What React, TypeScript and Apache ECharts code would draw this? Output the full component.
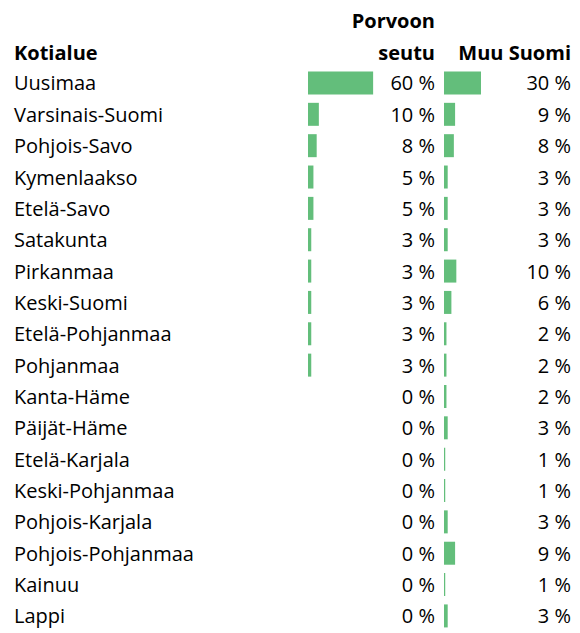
import React, { useEffect, useRef } from "react";
import * as echarts from "echarts";

const regions = [
  "Uusimaa",
  "Varsinais-Suomi",
  "Pohjois-Savo",
  "Kymenlaakso",
  "Etelä-Savo",
  "Satakunta",
  "Pirkanmaa",
  "Keski-Suomi",
  "Etelä-Pohjanmaa",
  "Pohjanmaa",
  "Kanta-Häme",
  "Päijät-Häme",
  "Etelä-Karjala",
  "Keski-Pohjanmaa",
  "Pohjois-Karjala",
  "Pohjois-Pohjanmaa",
  "Kainuu",
  "Lappi",
];
const porvoonSeutu = [60, 10, 8, 5, 5, 3, 3, 3, 3, 3, 0, 0, 0, 0, 0, 0, 0, 0];
const muuSuomi = [30, 9, 8, 3, 3, 3, 10, 6, 2, 2, 2, 3, 1, 1, 3, 9, 1, 3];
const headerRegion = "Kotialue";
const headerPorvoo = ["Porvoon", "seutu"];
const headerMuu = "Muu Suomi";

const FONT = "'Open Sans'";
const SIZE = 20;
const pct = (v: number) => `${v} %`;

export default function App() {
  const ref = useRef<HTMLDivElement>(null);
  useEffect(() => {
    if (!ref.current) return;
    const chart = echarts.init(ref.current, null, { renderer: "svg" });
    const top = 67.3;
    const height = 564.3;
    const labelStyle = { fontSize: SIZE, color: "#000", fontFamily: FONT };
    const head = (text: string, x: number, y: number, align: string) => ({
      type: "text",
      x,
      y,
      style: {
        text,
        font: `bold ${SIZE}px ${FONT}`,
        fill: "#000",
        textAlign: align,
        textVerticalAlign: "middle",
      },
    });
    chart.setOption({
      animation: false,
      backgroundColor: "#fff",
      grid: [
        { left: 308, top, width: 127, height },
        { left: 444, top, width: 127, height },
      ],
      xAxis: [
        { type: "value", gridIndex: 0, min: 0, max: 117, show: false },
        { type: "value", gridIndex: 1, min: 0, max: 103, show: false },
      ],
      yAxis: [
        {
          type: "category",
          gridIndex: 0,
          data: regions,
          inverse: true,
          position: "left",
          axisLine: { show: false },
          axisTick: { show: false },
          axisLabel: { ...labelStyle, align: "left", margin: 294 },
        },
        {
          type: "category",
          gridIndex: 0,
          data: porvoonSeutu.map(pct),
          inverse: true,
          position: "right",
          axisLine: { show: false },
          axisTick: { show: false },
          axisLabel: { ...labelStyle, align: "right", margin: 0 },
        },
        {
          type: "category",
          gridIndex: 1,
          data: regions,
          inverse: true,
          show: false,
        },
        {
          type: "category",
          gridIndex: 1,
          data: muuSuomi.map(pct),
          inverse: true,
          position: "right",
          axisLine: { show: false },
          axisTick: { show: false },
          axisLabel: { ...labelStyle, align: "right", margin: 0 },
        },
      ],
      series: [
        {
          type: "bar",
          xAxisIndex: 0,
          yAxisIndex: 0,
          data: porvoonSeutu,
          barWidth: 23,
          itemStyle: { color: "#63BE7B" },
        },
        {
          type: "bar",
          xAxisIndex: 1,
          yAxisIndex: 2,
          data: muuSuomi,
          barWidth: 23,
          itemStyle: { color: "#63BE7B" },
        },
      ],
      graphic: [
        head(headerRegion, 14, 52, "left"),
        head(headerPorvoo[0], 435, 20, "right"),
        head(headerPorvoo[1], 435, 52, "right"),
        head(headerMuu, 571, 52, "right"),
      ],
    });
    return () => chart.dispose();
  }, []);
  return (
    <div
      ref={ref}
      style={{ position: "absolute", left: 0, top: 0, width: 580, height: 633 }}
    />
  );
}
